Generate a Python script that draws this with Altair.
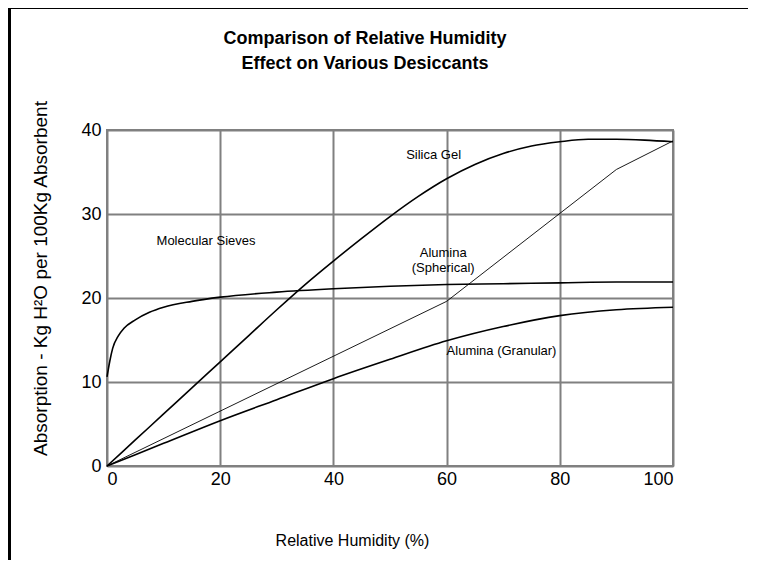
import altair as alt
import pandas as pd

FONT = "Liberation Sans, Arial, sans-serif"

# ---- data ----
x_silica = [0, 5, 10, 15, 20, 25, 30, 35, 40, 45, 50, 55, 60, 65, 70, 75, 80, 85, 90, 95, 100]
y_silica = [0, 3.1, 6.2, 9.3, 12.4, 15.5, 18.6, 21.6, 24.4, 27.1, 29.7, 32.1, 34.2, 35.9, 37.2, 38.1, 38.6, 38.9, 38.9, 38.8, 38.6]

x_sieves = [0, 0.5, 1, 2, 3, 5, 7.5, 10, 15, 20, 30, 40, 50, 60, 70, 80, 90, 100]
y_sieves = [10.6, 12.5, 14.0, 15.5, 16.4, 17.4, 18.3, 18.9, 19.6, 20.1, 20.7, 21.1, 21.4, 21.6, 21.7, 21.8, 21.9, 21.9]

x_spherical = [0, 60, 90, 100]
y_spherical = [0, 19.6, 35.3, 38.7]

x_granular = [0, 10, 20, 30, 40, 50, 60, 70, 80, 90, 100]
y_granular = [0, 2.7, 5.4, 7.9, 10.4, 12.7, 14.9, 16.6, 17.9, 18.6, 18.9]

label_text = ["Silica Gel", "Molecular Sieves", "Alumina", "(Spherical)", "Alumina (Granular)"]
label_x = [57.7, 17.5, 59.4, 59.4, 69.7]
label_y = [37.0, 26.8, 25.4, 23.6, 13.7]

x_ticks = [0, 20, 40, 60, 80, 100]
y_ticks = [0, 10, 20, 30, 40]

title_lines = ["Comparison of Relative Humidity", "Effect on Various Desiccants"]
x_title = "Relative Humidity (%)"
y_title = "Absorption - Kg H\u00b2O per 100Kg Absorbent"

# ---- tables ----
def frame(name, xs, ys):
    return pd.DataFrame({"series": name, "rh": xs, "abs": ys, "order": range(len(xs))})

curves = pd.concat([
    frame("Silica Gel", x_silica, y_silica),
    frame("Molecular Sieves", x_sieves, y_sieves),
    frame("Alumina (Granular)", x_granular, y_granular),
])
spherical = frame("Alumina (Spherical)", x_spherical, y_spherical)
labels = pd.DataFrame({"text": label_text, "rh": label_x, "abs": label_y})

xscale = alt.Scale(domain=[0, 100], nice=False, zero=False)
yscale = alt.Scale(domain=[0, 40], nice=False, zero=False)

xaxis = alt.Axis(
    values=x_ticks, title=x_title, titleX=245, titleY=74,
    titleAlign="center", titleBaseline="middle", titleFontSize=16,
    labelPadding=4,
)
yaxis = alt.Axis(
    values=y_ticks, title=y_title, titleAngle=270, titleX=-67, titleY=148,
    titleAlign="center", titleBaseline="middle", titleFontSize=19,
    labelPadding=6,
)

base = alt.Chart(curves)

smooth = base.mark_line(interpolate="monotone", color="black", strokeWidth=1.6).encode(
    x=alt.X("rh:Q", scale=xscale, axis=xaxis),
    y=alt.Y("abs:Q", scale=yscale, axis=yaxis),
    detail="series:N",
    order="order:Q",
)

straight = alt.Chart(spherical).mark_line(color="black", strokeWidth=0.9).encode(
    x=alt.X("rh:Q", scale=xscale),
    y=alt.Y("abs:Q", scale=yscale),
    order="order:Q",
)

texts = alt.Chart(labels).mark_text(
    font=FONT, fontSize=13, color="black", align="center", baseline="middle"
).encode(
    x=alt.X("rh:Q", scale=xscale),
    y=alt.Y("abs:Q", scale=yscale),
    text="text:N",
)

# outer frame (top and left edges of the picture)
frame_top = alt.Chart(labels).mark_rule(color="black", strokeWidth=2.5).encode(
    x=alt.value(-97.5), x2=alt.value(650), y=alt.value(-122.5)
)
frame_left = alt.Chart(labels).mark_rule(color="black", strokeWidth=2.5).encode(
    x=alt.value(-97.5), y=alt.value(-123.5), y2=alt.value(460)
)

chart = alt.layer(texts, smooth, straight, frame_top, frame_left).properties(
    width=566,
    height=336,
    autosize=alt.AutoSizeParams(type="none"),
    padding={"left": 99, "top": 122, "right": 75, "bottom": 94},
    title=alt.TitleParams(
        title_lines, font=FONT, fontSize=18, fontWeight="bold", color="black",
        anchor="middle", dx=-25, offset=-68, lineHeight=25,
    ),
).configure_view(
    stroke="#808080", strokeWidth=2
).configure_axis(
    labelFont=FONT, labelFontSize=18, labelColor="black",
    titleFont=FONT, titleFontWeight="normal", titleColor="black",
    grid=True, gridColor="#808080", gridWidth=2, gridOpacity=1,
    ticks=False, domain=False, zindex=1,
)

chart.save("out.html", embed_options={"renderer": "svg", "actions": False})
